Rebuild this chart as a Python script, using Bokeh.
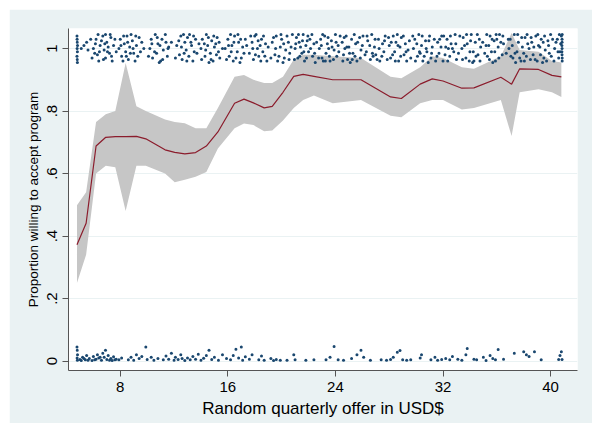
from bokeh.plotting import figure
from bokeh.models import FixedTicker
from bokeh.embed import file_html
from bokeh.resources import INLINE

# Smoothed proportion willing to accept (line) and confidence band
offer = [4.78, 5.46, 6.2, 6.92, 7.63, 8.4, 9.2, 9.9, 11.33, 12.05, 12.8, 13.6, 14.4, 15.26,
         16.5, 17.2, 17.9, 18.7, 19.3, 20.1, 20.9, 21.6, 22.4, 23.8, 25.9, 28.1, 28.9, 30.3,
         31.2, 32.0, 33.4, 34.3, 36.3, 37.1, 37.7, 39.1, 40.1, 40.8]
prop = [0.372, 0.441, 0.688, 0.716, 0.718, 0.718, 0.719, 0.711, 0.676, 0.668, 0.663, 0.667,
        0.688, 0.733, 0.825, 0.838, 0.826, 0.81, 0.815, 0.86, 0.911, 0.917, 0.911, 0.90, 0.90,
        0.845, 0.84, 0.886, 0.903, 0.896, 0.873, 0.874, 0.908, 0.886, 0.935, 0.933, 0.914, 0.909]
ci_hi = [0.499, 0.54, 0.765, 0.79, 0.80, 0.954, 0.815, 0.80, 0.773, 0.765, 0.761, 0.745,
         0.745, 0.81, 0.91, 0.915, 0.90, 0.89, 0.89, 0.91, 0.965, 0.98, 0.98, 0.975, 0.97,
         0.91, 0.905, 0.94, 0.975, 0.97, 0.94, 0.935, 0.975, 1.05, 0.995, 0.99, 0.96, 0.955]
ci_lo = [0.25, 0.34, 0.60, 0.625, 0.62, 0.48, 0.625, 0.625, 0.60, 0.572, 0.58, 0.59,
         0.605, 0.68, 0.745, 0.76, 0.755, 0.735, 0.738, 0.77, 0.81, 0.835, 0.85, 0.825, 0.835,
         0.785, 0.78, 0.825, 0.835, 0.835, 0.805, 0.81, 0.835, 0.72, 0.86, 0.87, 0.86, 0.845]

# Jittered individual responses: accepted (near 1)
accept_pts = [
    (4.78,1.04),(4.80,1.02),(4.79,1.00),(4.81,0.99),(4.78,0.975),(4.80,0.965),(4.82,1.01),(5.3,1.01),(5.6,0.995),(5.5,1.02),
    (6.0,1.00),(6.2,1.03),(6.3,0.98),(6.5,1.01),(6.4,0.96),(6.7,1.04),(6.8,0.995),(6.9,0.97),(7.0,1.02),(7.1,1.005),
    (7.2,0.985),(7.3,1.035),(6.1,0.985),(6.6,1.025),(7.4,0.96),(6.9,1.045),(7.5,1.01),
    (7.9,1.0),(8.0,1.03),(8.1,0.975),(8.3,1.015),(8.4,0.99),(8.5,1.04),(8.6,0.965),(8.7,1.005),(8.9,1.025),(9.0,0.985),
    (9.1,0.96),(9.2,1.01),(9.4,1.035),(9.5,0.99),(8.2,0.96),(8.8,1.045),
    (10.2,1.0),(10.3,1.03),(10.4,0.97),(10.6,1.045),(10.7,0.985),(10.8,1.015),(11.0,0.96),(11.1,1.03),(11.2,0.995),
    (11.4,1.02),(11.5,0.975),(11.6,1.005),(10.9,0.955),
    (12.2,1.01),(12.4,0.98),(12.5,1.04),(12.6,0.965),(12.8,1.02),(12.9,0.995),(13.0,1.035),(13.1,0.975),(13.3,1.01),
    (13.4,0.96),(13.5,0.99),(13.6,1.03),(12.7,1.045),
    (14.0,1.0),(14.1,1.03),(14.3,0.975),(14.4,1.045),(14.5,1.01),(14.7,0.985),(14.8,1.025),(14.9,0.96),(15.0,1.005),
    (15.2,1.035),(15.3,0.99),(15.4,0.97),(14.6,0.955),(15.1,1.015),
    (15.8,1.0),(16.0,1.03),(16.1,0.975),(16.3,1.01),(16.4,0.96),(16.5,1.04),(16.7,0.99),(16.8,1.02),(17.0,0.97),
    (17.1,1.005),(17.3,1.03),(16.9,0.955),(16.2,1.045),
    (17.6,0.985),(17.8,1.02),(17.9,0.965),(18.0,1.04),(18.2,1.0),(18.3,0.975),(18.5,1.03),(18.6,0.99),(18.8,1.015),
    (18.9,0.96),(18.1,1.045),(18.4,1.01),
    (19.3,1.02),(19.5,0.98),(19.6,1.04),(19.7,0.96),(19.9,1.005),(20.0,1.03),(20.2,0.97),(20.3,0.995),(20.5,1.02),
    (20.6,0.985),(20.8,1.045),(20.1,0.955),
    (21.0,1.0),(21.1,1.035),(21.2,0.97),(21.3,1.02),(21.5,0.985),(21.6,1.045),(21.7,0.96),(21.8,1.01),(22.0,0.99),
    (22.1,1.03),(22.3,0.975),(22.4,1.015),(22.5,0.955),(21.4,1.005),(21.9,1.025),
    (22.8,1.0),(22.9,1.03),(23.0,0.97),(23.2,1.04),(23.3,0.985),(23.4,1.015),(23.6,0.96),(23.7,1.025),(23.9,0.995),
    (24.0,1.045),(24.1,0.975),(24.2,1.01),(23.5,1.0),(23.1,0.96),
    (24.5,1.02),(24.6,0.98),(24.8,1.04),(24.9,0.965),(25.0,1.005),(25.2,1.03),(25.3,0.985),(25.5,1.015),(25.6,0.96),
    (25.8,1.035),(25.9,0.995),(26.0,1.01),(25.1,0.955),(24.7,1.0),
    (26.3,0.99),(26.4,1.025),(26.6,0.965),(26.7,1.045),(26.9,1.005),(27.0,0.98),(27.2,1.03),(27.3,0.96),(27.5,1.015),
    (27.6,0.99),(27.7,1.04),(26.8,0.975),
    (28.0,1.01),(28.1,0.97),(28.3,1.04),(28.4,0.99),(28.5,1.02),(28.7,0.96),(28.8,1.005),(28.9,1.035),(29.1,0.98),
    (29.2,1.015),(29.4,0.995),(28.6,1.045),(29.3,0.96),
    (29.8,1.0),(29.9,1.03),(30.1,0.975),(30.2,1.045),(30.4,1.01),(30.5,0.96),(30.7,1.025),(30.8,0.99),(31.0,1.04),
    (31.1,0.97),(31.2,1.005),(30.3,0.985),(30.9,0.955),
    (31.6,1.02),(31.7,0.985),(31.9,1.04),(32.0,0.96),(32.2,1.005),(32.3,1.03),(32.5,0.975),(32.6,1.015),(32.8,0.99),
    (32.9,1.045),(33.0,0.965),(32.4,1.0),
    (33.4,1.0),(33.5,1.035),(33.7,0.97),(33.8,1.015),(34.0,0.99),(34.1,1.045),(34.3,0.96),(34.4,1.02),(34.6,0.98),
    (34.7,1.03),(34.8,1.005),(34.2,0.955),
    (35.2,1.01),(35.3,0.975),(35.5,1.04),(35.6,0.99),(35.8,1.025),(35.9,0.96),(36.1,1.005),(36.2,1.045),(36.4,0.98),
    (36.5,1.015),(35.7,0.955),(36.0,1.03),
    (36.9,1.0),(37.0,1.03),(37.2,0.97),(37.3,1.045),(37.5,0.99),(37.6,1.02),(37.8,0.96),(37.9,1.005),(38.1,1.035),
    (38.2,0.975),(38.3,1.015),(37.4,0.955),(38.0,0.985),
    (38.6,1.02),(38.7,0.98),(38.9,1.04),(39.0,0.96),(39.2,1.005),(39.3,1.03),(39.5,0.97),(39.6,0.995),(39.8,1.025),
    (39.9,0.985),(40.0,1.045),(39.4,0.955),(39.1,1.01),
    (40.3,1.0),(40.5,1.03),(40.6,0.97),(40.8,1.04),(40.85,1.02),(40.85,1.0),(40.85,0.98),(40.86,0.96),(40.84,1.01),
    (40.7,0.99),(40.86,1.045),
    (4.79,1.03),(4.81,0.955),(5.1,1.0),(5.8,1.03),(5.9,0.97),(6.15,1.015),(6.35,1.045),(6.45,0.99),(6.75,0.965),
    (6.85,1.015),(7.05,0.99),(7.25,1.045),(7.35,0.975),(7.6,1.03),(7.7,0.99),
    (8.05,1.01),(8.25,1.04),(8.45,0.975),(8.55,1.02),(8.75,0.985),(8.95,1.0),(9.15,1.04),(9.3,0.975),(9.6,1.02),(9.75,1.0),
    (10.1,0.975),(10.35,1.015),(10.55,0.99),(10.75,1.035),(10.95,1.01),(11.15,0.965),(11.35,1.045),(11.55,1.0),(11.8,1.02),
    (12.1,0.97),(12.35,1.025),(12.55,1.005),(12.75,0.985),(12.95,0.96),(13.15,1.045),(13.25,1.02),(13.45,1.04),
    (13.7,0.985),(13.85,1.015),
    (14.05,0.965),(14.25,1.015),(14.35,0.995),(14.55,1.035),(14.75,0.965),(14.95,1.04),(15.15,0.98),(15.35,1.02),(15.6,1.0),
    (15.9,0.965),(16.05,1.01),(16.25,0.99),(16.45,1.02),(16.6,0.97),(16.75,1.045),(16.95,1.03),(17.2,0.985),(17.4,1.01),
    (17.7,1.04),(17.85,1.0),(18.05,0.98),(18.25,1.025),(18.45,0.96),(18.65,1.04),(18.75,0.975),(19.0,1.005),
    (19.2,0.97),(19.4,1.035),(19.55,1.0),(19.8,0.975),(19.95,1.045),(20.15,1.015),(20.4,1.04),(20.55,0.965),(20.7,1.005),
    (20.95,0.965),(21.05,1.015),(21.25,1.045),(21.35,0.975),(21.55,1.025),(21.65,0.99),(21.85,0.97),(21.95,1.04),
    (22.15,1.0),(22.25,1.045),(22.45,0.985),(22.6,1.02),
    (22.75,0.97),(22.95,1.01),(23.05,1.045),(23.25,0.96),(23.45,1.035),(23.55,0.975),(23.75,1.005),(23.85,0.965),
    (24.05,1.02),(24.25,0.99),(24.35,1.04),
    (24.55,0.96),(24.65,1.035),(24.85,1.005),(25.05,0.985),(25.25,0.965),(25.4,1.045),(25.45,0.975),(25.65,1.02),
    (25.85,0.97),(26.05,1.04),(26.2,0.98),
    (26.35,1.04),(26.55,1.01),(26.75,0.985),(26.95,1.03),(27.1,0.965),(27.25,1.0),(27.45,0.975),(27.65,1.025),(27.85,0.965),
    (27.95,1.035),(28.15,1.02),(28.25,0.98),(28.45,0.96),(28.65,1.01),(28.85,0.975),(29.05,1.04),(29.25,0.99),
    (29.5,1.025),(29.6,0.97),
    (29.75,1.04),(29.95,0.96),(30.05,1.015),(30.25,0.99),(30.45,1.04),(30.6,0.975),(30.75,1.0),(30.95,1.025),
    (31.15,0.985),(31.35,1.03),(31.45,0.96),
    (31.55,0.975),(31.75,1.03),(31.85,1.005),(32.05,1.04),(32.15,0.98),(32.35,0.96),(32.55,1.04),(32.7,1.0),
    (32.95,1.015),(33.15,0.985),(33.25,1.04),
    (33.45,0.965),(33.6,1.01),(33.75,1.045),(33.95,0.96),(34.05,1.025),(34.25,0.99),(34.45,0.975),(34.55,1.045),
    (34.75,0.96),(34.95,1.02),
    (35.1,0.985),(35.25,1.045),(35.4,1.01),(35.45,0.965),(35.65,1.03),(35.85,0.99),(35.95,1.045),(36.15,0.97),
    (36.3,1.02),(36.45,1.04),(36.7,0.985),
    (36.85,1.03),(37.05,0.975),(37.15,1.01),(37.35,0.985),(37.55,1.045),(37.7,0.97),(37.85,1.035),(38.05,0.96),
    (38.25,1.045),(38.4,1.0),(38.5,0.965),
    (38.55,1.035),(38.75,1.005),(38.85,0.965),(39.05,1.045),(39.25,0.98),(39.45,1.02),(39.55,1.04),(39.7,0.96),
    (39.85,1.01),(40.05,0.975),(40.15,1.03),
    (40.25,0.96),(40.4,1.02),(40.55,0.99),(40.65,1.045),(40.75,1.015),(40.86,0.97),(40.85,1.03),(40.84,0.99),
]

# Jittered individual responses: declined (near 0)
decline_pts = [
    (4.78,0.045),(4.80,0.035),(4.82,0.02),(4.79,0.01),(4.81,0.003),(5.0,0.005),(5.2,0.012),(5.4,0.004),(5.5,0.018),(5.7,0.008),
    (5.9,0.002),(6.0,0.015),(6.2,0.006),(6.3,0.02),(6.4,0.01),(6.6,0.003),(6.7,0.025),(6.8,0.012),(6.9,0.035),(7.0,0.005),
    (7.1,0.018),(7.3,0.008),(7.4,0.002),(7.5,0.014),(7.7,0.006),(7.9,0.004),(8.1,0.01),
    (5.1,0.002),(5.3,0.008),(5.6,0.003),(6.1,0.004),(6.5,0.012),(7.2,0.003),(7.6,0.004),
    (8.6,0.004),(8.8,0.012),(9.0,0.003),(9.2,0.02),(9.4,0.008),(9.6,0.015),(9.9,0.045),(10.0,0.005),(10.3,0.012),
    (10.5,0.003),(10.8,0.008),(11.2,0.004),(11.4,0.016),(11.6,0.006),(11.8,0.025),(12.0,0.003),(12.1,0.012),(12.3,0.005),
    (12.5,0.02),(12.6,0.008),(12.8,0.002),(13.0,0.01),(13.2,0.004),(13.4,0.015),(13.6,0.006),(13.8,0.022),(14.0,0.003),
    (14.2,0.009),(14.4,0.018),(14.6,0.035),(14.8,0.005),(15.0,0.012),(15.3,0.003),(15.6,0.02),(15.9,0.008),
    (16.2,0.004),(16.4,0.018),(16.6,0.038),(16.8,0.01),(17.0,0.045),(17.1,0.003),(17.3,0.014),(17.6,0.006),(17.8,0.02),
    (18.3,0.004),(18.5,0.016),(18.7,0.003),(19.2,0.008),(19.4,0.002),(19.6,0.005),(19.9,0.003),(20.4,0.003),(20.9,0.02),
    (21.0,0.004),(21.8,0.003),(22.4,0.004),
    (23.3,0.004),(23.6,0.012),(23.9,0.047),(24.2,0.004),(24.6,0.003),(25.2,0.008),(25.6,0.02),(25.9,0.035),(26.1,0.012),
    (26.6,0.003),(27.4,0.004),(27.8,0.003),(28.1,0.005),(28.3,0.012),(28.6,0.028),(28.8,0.034),(29.0,0.004),(29.3,0.003),
    (29.6,0.004),(30.3,0.01),(30.4,0.02),(31.1,0.004),(31.4,0.012),(31.6,0.003),(31.9,0.005),(32.2,0.008),(32.5,0.004),
    (32.7,0.015),(33.1,0.006),(33.4,0.003),(33.7,0.02),(33.8,0.04),(34.3,0.006),(34.5,0.004),(35.0,0.012),(35.2,0.002),
    (35.5,0.018),(35.7,0.008),(35.9,0.004),(36.1,0.037),(36.5,0.006),(37.3,0.025),(38.0,0.03),(38.2,0.02),(38.4,0.015),
    (38.8,0.03),(39.3,0.004),(40.6,0.005),(40.7,0.018),(40.8,0.03),(40.85,0.005),
]

x_ticks = [8, 16, 24, 32, 40]
y_ticks = [0, 0.2, 0.4, 0.6, 0.8, 1]
y_tick_labels = {0: "0", 0.2: ".2", 0.4: ".4", 0.6: ".6", 0.8: ".8", 1: "1"}

BG = "#EAF2F3"
FONT = "Liberation Sans"

p = figure(width=583, height=414, output_backend="svg", toolbar_location=None,
           x_range=(4.15, 42.0), y_range=(-0.03, 1.064),
           min_border_left=59, min_border_right=15, min_border_top=19, min_border_bottom=53)
p.margin = (9, 0, 0, 9)
p.background_fill_color = "white"
p.border_fill_color = BG
p.outline_line_color = None

# band, line, points
band_x = offer + offer[::-1]
band_y = ci_hi + ci_lo[::-1]
p.patch(band_x, band_y, fill_color="#C6C6C6", line_color=None)
p.line(offer, prop, line_color="#8B1C2C", line_width=1.2)

ax = [pt[0] for pt in accept_pts]
ay = [pt[1] for pt in accept_pts]
dx = [pt[0] for pt in decline_pts]
dy = [pt[1] for pt in decline_pts]
p.scatter(ax, ay, size=3, fill_color="#1A476F", line_color=None)
p.scatter(dx, dy, size=3, fill_color="#1A476F", line_color=None)

# axes
p.xaxis.ticker = FixedTicker(ticks=x_ticks)
p.yaxis.ticker = FixedTicker(ticks=y_ticks)
p.yaxis.major_label_overrides = y_tick_labels
p.yaxis.major_label_orientation = "vertical"
for axis in (p.xaxis, p.yaxis):
    axis.minor_tick_line_color = None
    axis.major_tick_out = 6
    axis.major_tick_in = 0
    axis.axis_line_color = "#555555"
    axis.major_tick_line_color = "#555555"
    axis.major_label_text_font = FONT
    axis.major_label_text_font_size = "15px"
    axis.major_label_text_color = "black"
    axis.axis_label_text_font = FONT
    axis.axis_label_text_font_style = "normal"
    axis.axis_label_text_color = "black"
p.xaxis.axis_label_text_font_size = "17px"
p.yaxis.axis_label_text_font_size = "13.5px"
p.xaxis.axis_label = "Random quarterly offer in USD$"
p.yaxis.axis_label = "Proportion willing to accept program"
p.xaxis.axis_label_standoff = 4
p.yaxis.axis_label_standoff = 4

p.xgrid.grid_line_color = None
p.ygrid.grid_line_color = BG
p.ygrid.grid_line_width = 1

open("out.html", "w").write(file_html(p, INLINE))
